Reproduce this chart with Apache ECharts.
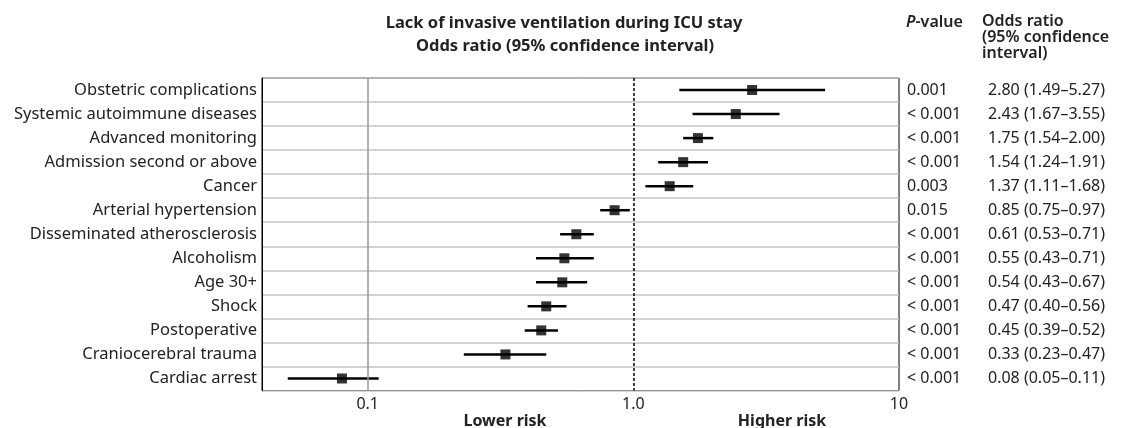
<!DOCTYPE html>
<html>
<head>
<meta charset="utf-8">
<script src="https://cdn.jsdelivr.net/npm/echarts@6/dist/echarts.min.js"></script>
<style>
  html, body { margin: 0; padding: 0; background: #fff; }
  #chart { width: 1121px; height: 428px; }
</style>
</head>
<body>
<div id="chart"></div>
<script>
// 数据
const categories = ['Obstetric complications', 'Systemic autoimmune diseases', 'Advanced monitoring',
    'Admission second or above', 'Cancer', 'Arterial hypertension', 'Disseminated atherosclerosis',
    'Alcoholism', 'Age 30+', 'Shock', 'Postoperative', 'Craniocerebral trauma', 'Cardiac arrest']
const oddsRatio = [2.80, 2.43, 1.75, 1.54, 1.37, 0.85, 0.61, 0.55, 0.54, 0.47, 0.45, 0.33, 0.08]
const ciLow = [1.49, 1.67, 1.54, 1.24, 1.11, 0.75, 0.53, 0.43, 0.43, 0.40, 0.39, 0.23, 0.05]
const ciHigh = [5.27, 3.55, 2.00, 1.91, 1.68, 0.97, 0.71, 0.71, 0.67, 0.56, 0.52, 0.47, 0.11]
const pValues = ['0.001', '< 0.001', '< 0.001', '< 0.001', '0.003', '0.015', '< 0.001',
    '< 0.001', '< 0.001', '< 0.001', '< 0.001', '< 0.001', '< 0.001']
const xTicks = [0.1, 1, 10]
const xTickLabels = ['0.1', '1.0', '10']

const FONT = 'Noto Sans'
const orLabels = oddsRatio.map((v, i) => v.toFixed(2) + ' (' + ciLow[i].toFixed(2) + '–' + ciHigh[i].toFixed(2) + ')')

const myChart = echarts.init(document.getElementById('chart'))

// 居中文字
function label(text, x, y, font, extra) {
    return {
        type: 'text', x: x, y: y, silent: true,
        style: Object.assign({ text: text, font: font, fill: '#222', align: 'center', verticalAlign: 'middle' }, extra || {})
    }
}

const option = {
    animation: false,
    textStyle: { fontFamily: FONT },
    grid: {
        left: 262, top: 78, width: 637, height: 312.5,
        show: true, borderColor: '#000', borderWidth: 1
    },
    xAxis: {
        type: 'log',
        logBase: 10,
        min: 0.04,
        max: 10,
        axisLine: { lineStyle: { color: '#555', width: 2 } },
        axisTick: { show: false },
        splitLine: { show: false },
        axisLabel: {
            showMinLabel: false,
            color: '#222', fontSize: 16, fontFamily: FONT, margin: 6,
            formatter: function (v) {
                for (let i = 0; i < xTicks.length; i++) {
                    if (Math.abs(v - xTicks[i]) < xTicks[i] * 1e-6) return xTickLabels[i]
                }
                return ''
            }
        }
    },
    yAxis: [
        {
            type: 'category',
            inverse: true,
            data: categories,
            axisLine: { lineStyle: { color: '#000', width: 1 } },
            axisTick: { inside: true, length: 5, lineStyle: { color: '#000' } },
            splitLine: { show: true, lineStyle: { color: '#c4c4c4', width: 1.5 } },
            axisLabel: { color: '#222', fontSize: 16.5, fontFamily: FONT, margin: 5 }
        },
        {
            type: 'category',
            inverse: true,
            position: 'right',
            data: pValues,
            axisLine: { show: false },
            axisTick: { show: false },
            axisLabel: { color: '#222', fontSize: 16, fontFamily: FONT, margin: 8, align: 'left' }
        },
        {
            type: 'category',
            inverse: true,
            position: 'right',
            offset: 206,
            data: orLabels,
            axisLine: { show: false },
            axisTick: { show: false },
            axisLabel: { color: '#222', fontSize: 16, fontFamily: FONT, margin: 0, align: 'right' }
        }
    ],
    graphic: [
        label('Lack of invasive ventilation during ICU stay', 564, 23, 'bold 16.5px "Noto Sans"'),
        label('Odds ratio (95% confidence interval)', 565, 46, 'bold 16.5px "Noto Sans"'),
        {
            type: 'text', x: 906, y: 22, silent: true,
            style: {
                text: '{i|P}-value', fill: '#222', font: '600 16px "Noto Sans"', verticalAlign: 'middle',
                rich: { i: { fontStyle: 'italic', fontWeight: 600, fontSize: 16, fontFamily: FONT, fill: '#222' } }
            }
        },
        {
            type: 'text', x: 982, y: 14, silent: true,
            style: { text: 'Odds ratio\n(95% confidence\ninterval)', font: '600 16px "Noto Sans"', fill: '#222', lineHeight: 15.7 }
        },
        label('Lower risk', 505, 421, 'bold 16px "Noto Sans"'),
        label('Higher risk', 782, 421, 'bold 16px "Noto Sans"')
    ],
    series: [
        {
            // 置信区间
            type: 'custom',
            xAxisIndex: 0,
            yAxisIndex: 0,
            encode: { x: [0, 1], y: 2 },
            data: ciLow.map((v, i) => [v, ciHigh[i], i]),
            renderItem: function (params, api) {
                const p1 = api.coord([api.value(0), api.value(2)])
                const p2 = api.coord([api.value(1), api.value(2)])
                return {
                    type: 'line',
                    shape: { x1: p1[0], y1: p1[1], x2: p2[0], y2: p2[1] },
                    style: { stroke: '#000', lineWidth: 2.5 }
                }
            },
            z: 3
        },
        {
            type: 'scatter',
            xAxisIndex: 0,
            yAxisIndex: 0,
            symbol: 'rect',
            symbolSize: 10,
            itemStyle: { color: '#000' },
            data: oddsRatio.map((v, i) => [v, i]),
            z: 4,
            markLine: {
                silent: true,
                symbol: 'none',
                label: { show: false },
                data: [
                    { xAxis: xTicks[0], lineStyle: { color: '#999', type: 'solid', width: 1.5 } },
                    { xAxis: xTicks[1], lineStyle: { color: '#000', type: [3, 2], width: 1.5 } }
                ]
            }
        }
    ]
}
myChart.setOption(option)
</script>
</body>
</html>
